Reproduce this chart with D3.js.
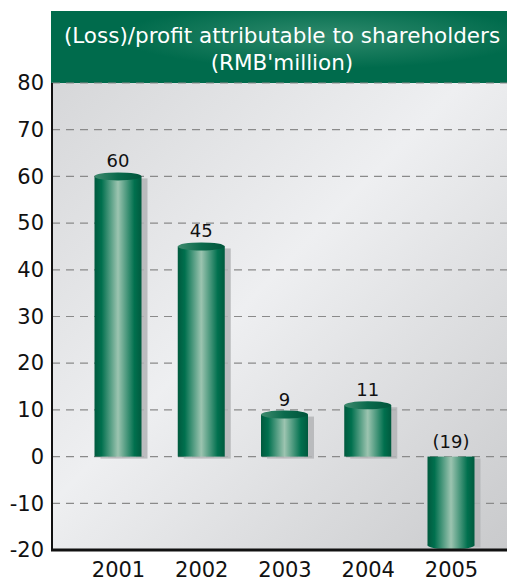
<!DOCTYPE html>
<html>
<head>
<meta charset="utf-8">
<script src="https://cdn.jsdelivr.net/npm/d3@7"></script>
<style>
  body { margin: 0; background: #fff; }
  svg text { font-family: "DejaVu Sans", sans-serif; }
</style>
</head>
<body>
<div id="chart-area"></div>
<script>

// data
let years = ["2001", "2002", "2003", "2004", "2005"];
let profit = [60, 45, 9, 11, -19];
let valueLabels = ["60", "45", "9", "11", "(19)"];
let yTicks = [80, 70, 60, 50, 40, 30, 20, 10, 0, -10, -20];
let titleLines = ["(Loss)/profit attributable to shareholders", "(RMB'million)"];

let width = 507, height = 582;
let plot = {left: 52, right: 507, top: 83, bottom: 550};

let svg = d3.select("#chart-area").append("svg")
    .attr("width", width)
    .attr("height", height);

let defs = svg.append("defs");

// background gradient
let bg = defs.append("linearGradient").attr("id", "bg")
    .attr("x1", "0").attr("y1", "0").attr("x2", "1").attr("y2", "1");
bg.append("stop").attr("offset", "0").attr("stop-color", "#d6d7d9");
bg.append("stop").attr("offset", "0.45").attr("stop-color", "#eeeff1");
bg.append("stop").attr("offset", "1").attr("stop-color", "#c9cacc");

// banner
let ban = defs.append("radialGradient").attr("id", "banner")
    .attr("cx", "0.6").attr("cy", "0.35").attr("r", "0.45");
ban.append("stop").attr("offset", "0").attr("stop-color", "#2f8a6c");
ban.append("stop").attr("offset", "1").attr("stop-color", "#006b4c");

// cylinder body
let cyl = defs.append("linearGradient").attr("id", "cyl")
    .attr("x1", "0").attr("x2", "1").attr("y1", "0").attr("y2", "0");
cyl.append("stop").attr("offset", "0").attr("stop-color", "#005a3e");
cyl.append("stop").attr("offset", "0.15").attr("stop-color", "#00704e");
cyl.append("stop").attr("offset", "0.5").attr("stop-color", "#9cc4b0");
cyl.append("stop").attr("offset", "0.85").attr("stop-color", "#00704e");
cyl.append("stop").attr("offset", "1").attr("stop-color", "#005a3e");

let capG = defs.append("linearGradient").attr("id", "cap")
    .attr("x1", "0").attr("x2", "1").attr("y1", "0").attr("y2", "0");
capG.append("stop").attr("offset", "0").attr("stop-color", "#3f8a6e");
capG.append("stop").attr("offset", "0.5").attr("stop-color", "#0a6a4c");
capG.append("stop").attr("offset", "1").attr("stop-color", "#00553b");

// Scales
let x = d3.scalePoint()
    .domain(years)
    .range([118, 451]);

let y = d3.scaleLinear()
    .domain([-20, 80])
    .range([plot.bottom, plot.top]);

let barW = 47;

svg.append("rect")
    .attr("x", plot.left).attr("y", plot.top)
    .attr("width", plot.right - plot.left)
    .attr("height", plot.bottom - plot.top)
    .attr("fill", "url(#bg)");

svg.append("rect")
    .attr("x", 51).attr("y", 11)
    .attr("width", width - 51).attr("height", plot.top - 11)
    .attr("fill", "url(#banner)");

svg.append("g").selectAll("text")
    .data(titleLines)
    .join("text")
    .attr("x", 282)
    .attr("y", (d, i) => 43 + i * 27)
    .attr("text-anchor", "middle")
    .attr("fill", "#fff")
    .attr("font-size", 21.5)
    .text(d => d);

// gridlines
svg.append("g").selectAll("line")
    .data(yTicks)
    .join("line")
    .attr("x1", plot.left).attr("x2", plot.right)
    .attr("y1", d => y(d)).attr("y2", d => y(d))
    .attr("stroke", "#8a8a8a")
    .attr("stroke-width", 1.2)
    .attr("stroke-dasharray", "8,6");

// y axis labels
let yAxis = d3.axisLeft(y).tickValues(yTicks).tickSize(0).tickPadding(8)
    .tickFormat(d => String(d));
let yAxisGroup = svg.append("g")
    .attr("transform", "translate(" + plot.left + ",0)")
    .call(yAxis);
yAxisGroup.select(".domain").remove();
yAxisGroup.selectAll("text")
    .attr("font-size", 21)
    .attr("fill", "#111")
    .style("font-family", "'DejaVu Sans', sans-serif");

// bars
let bars = svg.append("g").selectAll("g")
    .data(years.map((d, i) => ({year: d, value: profit[i], label: valueLabels[i]})))
    .join("g");

let ry = 4;

// shadow
bars.append("rect")
    .attr("x", d => x(d.year) - barW / 2 + 6)
    .attr("y", d => Math.min(y(d.value), y(0)) + 2)
    .attr("width", barW)
    .attr("height", d => Math.abs(y(d.value) - y(0)))
    .attr("fill", "#b3b4b6")
    .attr("opacity", 0.85);

bars.append("rect")
    .attr("x", d => x(d.year) - barW / 2)
    .attr("y", d => Math.min(y(d.value), y(0)))
    .attr("width", barW)
    .attr("height", d => Math.abs(y(d.value) - y(0)))
    .attr("fill", "url(#cyl)");

// cap ellipse at top for positives, bottom for negative
bars.append("ellipse")
    .attr("cx", d => x(d.year))
    .attr("cy", d => y(d.value))
    .attr("rx", barW / 2)
    .attr("ry", ry)
    .attr("fill", d => d.value >= 0 ? "url(#cap)" : "url(#cyl)");

bars.append("text")
    .attr("x", d => x(d.year))
    .attr("y", d => d.value >= 0 ? y(d.value) - 9 : y(0) - 9)
    .attr("text-anchor", "middle")
    .attr("font-size", 18)
    .attr("fill", "#111")
    .text(d => d.label);

// axis lines
svg.append("line")
    .attr("x1", plot.left).attr("x2", plot.left)
    .attr("y1", plot.top).attr("y2", plot.bottom)
    .attr("stroke", "#111").attr("stroke-width", 2);

svg.append("line")
    .attr("x1", plot.left - 1).attr("x2", plot.right)
    .attr("y1", plot.bottom).attr("y2", plot.bottom)
    .attr("stroke", "#111").attr("stroke-width", 3);

// x axis labels
let xAxis = d3.axisBottom(x).tickSize(0).tickPadding(12);
let xAxisGroup = svg.append("g")
    .attr("transform", "translate(0," + plot.bottom + ")")
    .call(xAxis);
xAxisGroup.select(".domain").remove();
xAxisGroup.selectAll("text")
    .attr("font-size", 21)
    .attr("fill", "#111")
    .style("font-family", "'DejaVu Sans', sans-serif");

</script>
</body>
</html>
